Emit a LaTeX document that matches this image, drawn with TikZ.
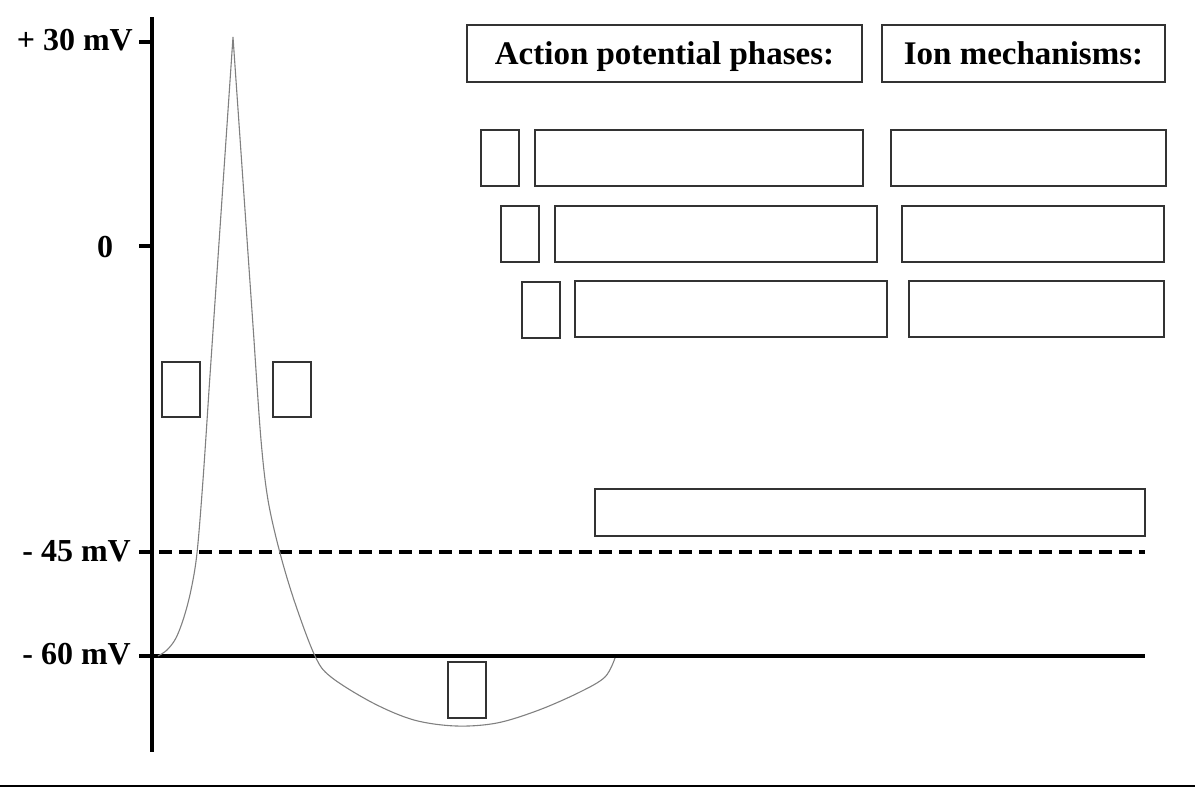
\documentclass[tikz,border=0pt]{standalone}
\usepackage{fontspec}
\setmainfont{Liberation Serif}
\begin{document}
\begin{tikzpicture}[x=1pt,y=-1pt,
  box/.style={draw=black!80, line width=1.3pt, inner sep=0pt, fill=white},
  hdr/.style={box, font=\fontsize{33}{38}\selectfont\bfseries, text height=28pt, text depth=7pt},
  lbl/.style={font=\fontsize{32}{36}\selectfont\bfseries, inner sep=0pt},
  axis/.style={line width=4.5pt},
  curve/.style={draw=black!50, line width=1.1pt}
]
\useasboundingbox (0,0) rectangle (1195,787);
% frame line at bottom
\coordinate (bl) at (0,786);
\coordinate (br) at (1195,786);
\draw[line width=1.2pt] (bl) -- (br);

% axis
\coordinate (atop) at (152,17);
\coordinate (abot) at (152,752);
\draw[axis] (atop) -- (abot);
\coordinate (t30a) at (139,42); \coordinate (t30b) at (152,42);
\coordinate (t0a) at (139,246); \coordinate (t0b) at (152,246);
\draw[axis] (t30a) -- (t30b);
\draw[axis] (t0a) -- (t0b);
\coordinate (d45a) at (139,552); \coordinate (d45b) at (1145,552);
\draw[axis, line width=4pt, dash pattern=on 13pt off 7pt] (d45a) -- (d45b);
\coordinate (l60a) at (139,656); \coordinate (l60b) at (1145,656);
\draw[axis] (l60a) -- (l60b);

% labels
\node[lbl, anchor=base east] (lab30) at (133,50) {+ 30 mV};
\node[lbl, anchor=base] (lab0) at (105,257) {0};
\node[lbl, anchor=base east] (lab45) at (131,561) {- 45 mV};
\node[lbl, anchor=base east] (lab60) at (131,664) {- 60 mV};

% action potential curve
\draw[curve] plot[smooth, tension=0.55] coordinates {(158,656) (167,650) (176,638) (184,617) (191,590) (197,553) (203,480) (209,390)}
  -- (233,37) -- (254,340)
  -- plot[smooth, tension=0.55] coordinates {(254,340) (261,440) (268,500) (280,553) (295,603) (315,656) (331,677) (373,703) (414,720) (456,726) (497,723) (539,710) (580,692) (605,677) (615,658)};

% header boxes
\node[hdr, minimum width=395pt, minimum height=57pt] (hphase) at (664.5,53.5) {Action potential phases:};
\node[hdr, minimum width=283pt, minimum height=57pt] (hion) at (1023.5,53.5) {Ion mechanisms:};

% row 1
\node[box, minimum width=38pt, minimum height=56pt] (s1) at (500,158) {};
\node[box, minimum width=328pt, minimum height=56pt] (p1) at (699,158) {};
\node[box, minimum width=275pt, minimum height=56pt] (i1) at (1028.5,158) {};
% row 2
\node[box, minimum width=38pt, minimum height=56pt] (s2) at (520,234) {};
\node[box, minimum width=322pt, minimum height=56pt] (p2) at (716,234) {};
\node[box, minimum width=262pt, minimum height=56pt] (i2) at (1033,234) {};
% row 3
\node[box, minimum width=38pt, minimum height=56pt] (s3) at (541,310) {};
\node[box, minimum width=312pt, minimum height=56pt] (p3) at (731,309) {};
\node[box, minimum width=255pt, minimum height=56pt] (i3) at (1036.5,309) {};

% boxes on the curve
\node[box, minimum width=38pt, minimum height=55pt] (c1) at (181,389.5) {};
\node[box, minimum width=38pt, minimum height=55pt] (c2) at (292,389.5) {};
\node[box, minimum width=38pt, minimum height=56pt] (c3) at (467,690) {};
\node[box, minimum width=550pt, minimum height=47pt] (wide) at (870,512.5) {};
\end{tikzpicture}
\end{document}
